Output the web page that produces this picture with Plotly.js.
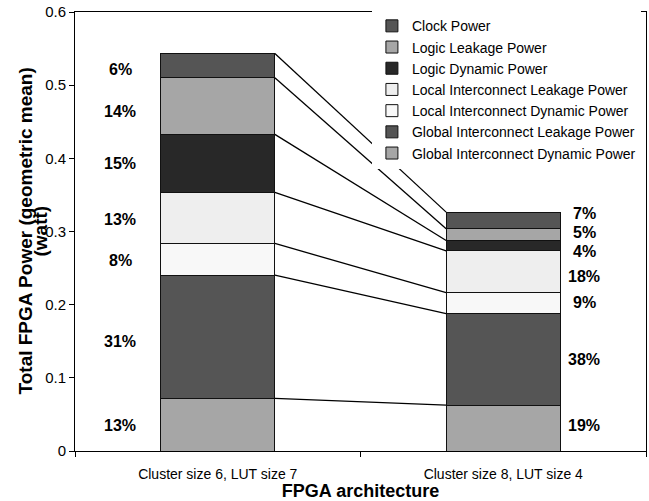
<!DOCTYPE html>
<html>
<head>
<meta charset="utf-8">
<script src="https://cdn.plot.ly/plotly-3.0.1.min.js"></script>
<style>html,body{margin:0;padding:0;background:#fff;}#chart{width:649px;height:501px;}</style>
</head>
<body>
<div id="chart"></div>
<script>
// ---- data ----
var categories = ["Cluster size 6, LUT size 7", "Cluster size 8, LUT size 4"];
var seriesNames = ["Global Interconnect Dynamic Power", "Global Interconnect Leakage Power",
  "Local Interconnect Dynamic Power", "Local Interconnect Leakage Power",
  "Logic Dynamic Power", "Logic Leakage Power", "Clock Power"];
var globalDynamic = [0.0720, 0.0628];
var globalLeakage = [0.1684, 0.1248];
var localDynamic  = [0.0433, 0.0287];
var localLeakage  = [0.0697, 0.0573];
var logicDynamic  = [0.0793, 0.0142];
var logicLeakage  = [0.0773, 0.0159];
var clockPower    = [0.0333, 0.0228];
var globalDynamicPct = ["13%", "19%"];
var globalLeakagePct = ["31%", "38%"];
var localDynamicPct  = ["8%", "9%"];
var localLeakagePct  = ["13%", "18%"];
var logicDynamicPct  = ["15%", "4%"];
var logicLeakagePct  = ["14%", "5%"];
var clockPowerPct    = ["6%", "7%"];
var yTitleLines = ["Total FPGA Power (geometric mean)", "(watt)"];
var xTitle = "FPGA architecture";

// ---- styles ----
var seriesValues = [globalDynamic, globalLeakage, localDynamic, localLeakage, logicDynamic, logicLeakage, clockPower];
var seriesPct = [globalDynamicPct, globalLeakagePct, localDynamicPct, localLeakagePct, logicDynamicPct, logicLeakagePct, clockPowerPct];
var colors = ["#a6a6a6", "#555555", "#f8f8f8", "#eeeeee", "#282828", "#a6a6a6", "#555555"];
var barWidth = 0.4;
var labelX = [-0.342, 1.283];           // label centre, in category units
var labelYShift = [[-1, -5, -1, -2, 0, -5, -4], [3, 0, 1, -5, -6, 2, 7]];
var yTitleShift = [-50, -35];
var FONT = "Liberation Sans, Arial, Helvetica, sans-serif";

var traces = [];
seriesNames.forEach(function (name, i) {
  traces.push({
    type: "bar", name: name, x: categories, y: seriesValues[i], width: barWidth,
    marker: {color: colors[i], line: {color: "#111", width: 1}},
    hoverinfo: "skip"
  });
});

// cumulative tops
var cum = [[], []];
for (var c = 0; c < 2; c++) {
  var s = 0;
  for (var i = 0; i < seriesValues.length; i++) {
    var v = seriesValues[i][c];
    cum[c].push({bottom: s, top: s + v});
    s += v;
  }
}

// connector lines between the right edge of bar 1 and the left edge of bar 2
var lx = [], ly = [];
for (var i = 0; i < seriesValues.length; i++) {
  lx.push(0 + barWidth / 2, 1 - barWidth / 2, null);
  ly.push(cum[0][i].top, cum[1][i].top, null);
}
traces.push({type: "scatter", mode: "lines", x: lx, y: ly, xaxis: "x2", yaxis: "y",
  line: {color: "#000", width: 1.3}, showlegend: false, hoverinfo: "skip"});

var annotations = [];
for (var c = 0; c < 2; c++) {
  for (var i = 0; i < seriesValues.length; i++) {
    annotations.push({
      xref: "x2", yref: "y", x: labelX[c], y: (cum[c][i].bottom + cum[c][i].top) / 2,
      yshift: labelYShift[c][i], text: seriesPct[i][c], showarrow: false,
      font: {family: FONT, size: 16, color: "#000", weight: "bold"}
    });
  }
}
yTitleLines.forEach(function (t, k) {
  annotations.push({
    xref: "paper", yref: "paper", x: 0, y: 0.5, xshift: yTitleShift[k],
    xanchor: "center", yanchor: "middle", textangle: -90, showarrow: false, text: t,
    font: {family: FONT, size: 19, color: "#000", weight: "bold"}
  });
});

var layout = {
  width: 649, height: 501,
  margin: {l: 75, r: 3, t: 12, b: 50},
  paper_bgcolor: "#fff", plot_bgcolor: "#fff",
  barmode: "stack",
  showlegend: true,
  font: {family: FONT, color: "#000"},
  xaxis: {
    type: "category", range: [-0.5, 1.5], tickson: "boundaries",
    ticks: "outside", ticklen: 5, tickcolor: "#000", ticklabelstandoff: 10,
    showline: true, linecolor: "#000", linewidth: 1, mirror: true,
    showgrid: false, zeroline: false,
    tickfont: {family: FONT, size: 14, color: "#000"},
    title: {text: xTitle, font: {family: FONT, size: 18, weight: "bold", color: "#000"}, standoff: 4}
  },
  xaxis2: {overlaying: "x", range: [-0.5, 1.5], visible: false, type: "linear"},
  yaxis: {
    range: [0, 0.6], dtick: 0.1, ticks: "outside", ticklen: 5, tickcolor: "#000",
    showline: true, linecolor: "#000", linewidth: 1, mirror: true,
    showgrid: false, zeroline: false,
    tickfont: {family: FONT, size: 15, color: "#000"}
  },
  legend: {
    x: 0.52, xanchor: "left", y: 1.004, yanchor: "top",
    traceorder: "reversed", bgcolor: "#fff", borderwidth: 0,
    font: {family: FONT, size: 14, color: "#000"}
  },
  annotations: annotations
};

Plotly.newPlot("chart", traces, layout, {displayModeBar: false, staticPlot: true});
</script>
</body>
</html>
